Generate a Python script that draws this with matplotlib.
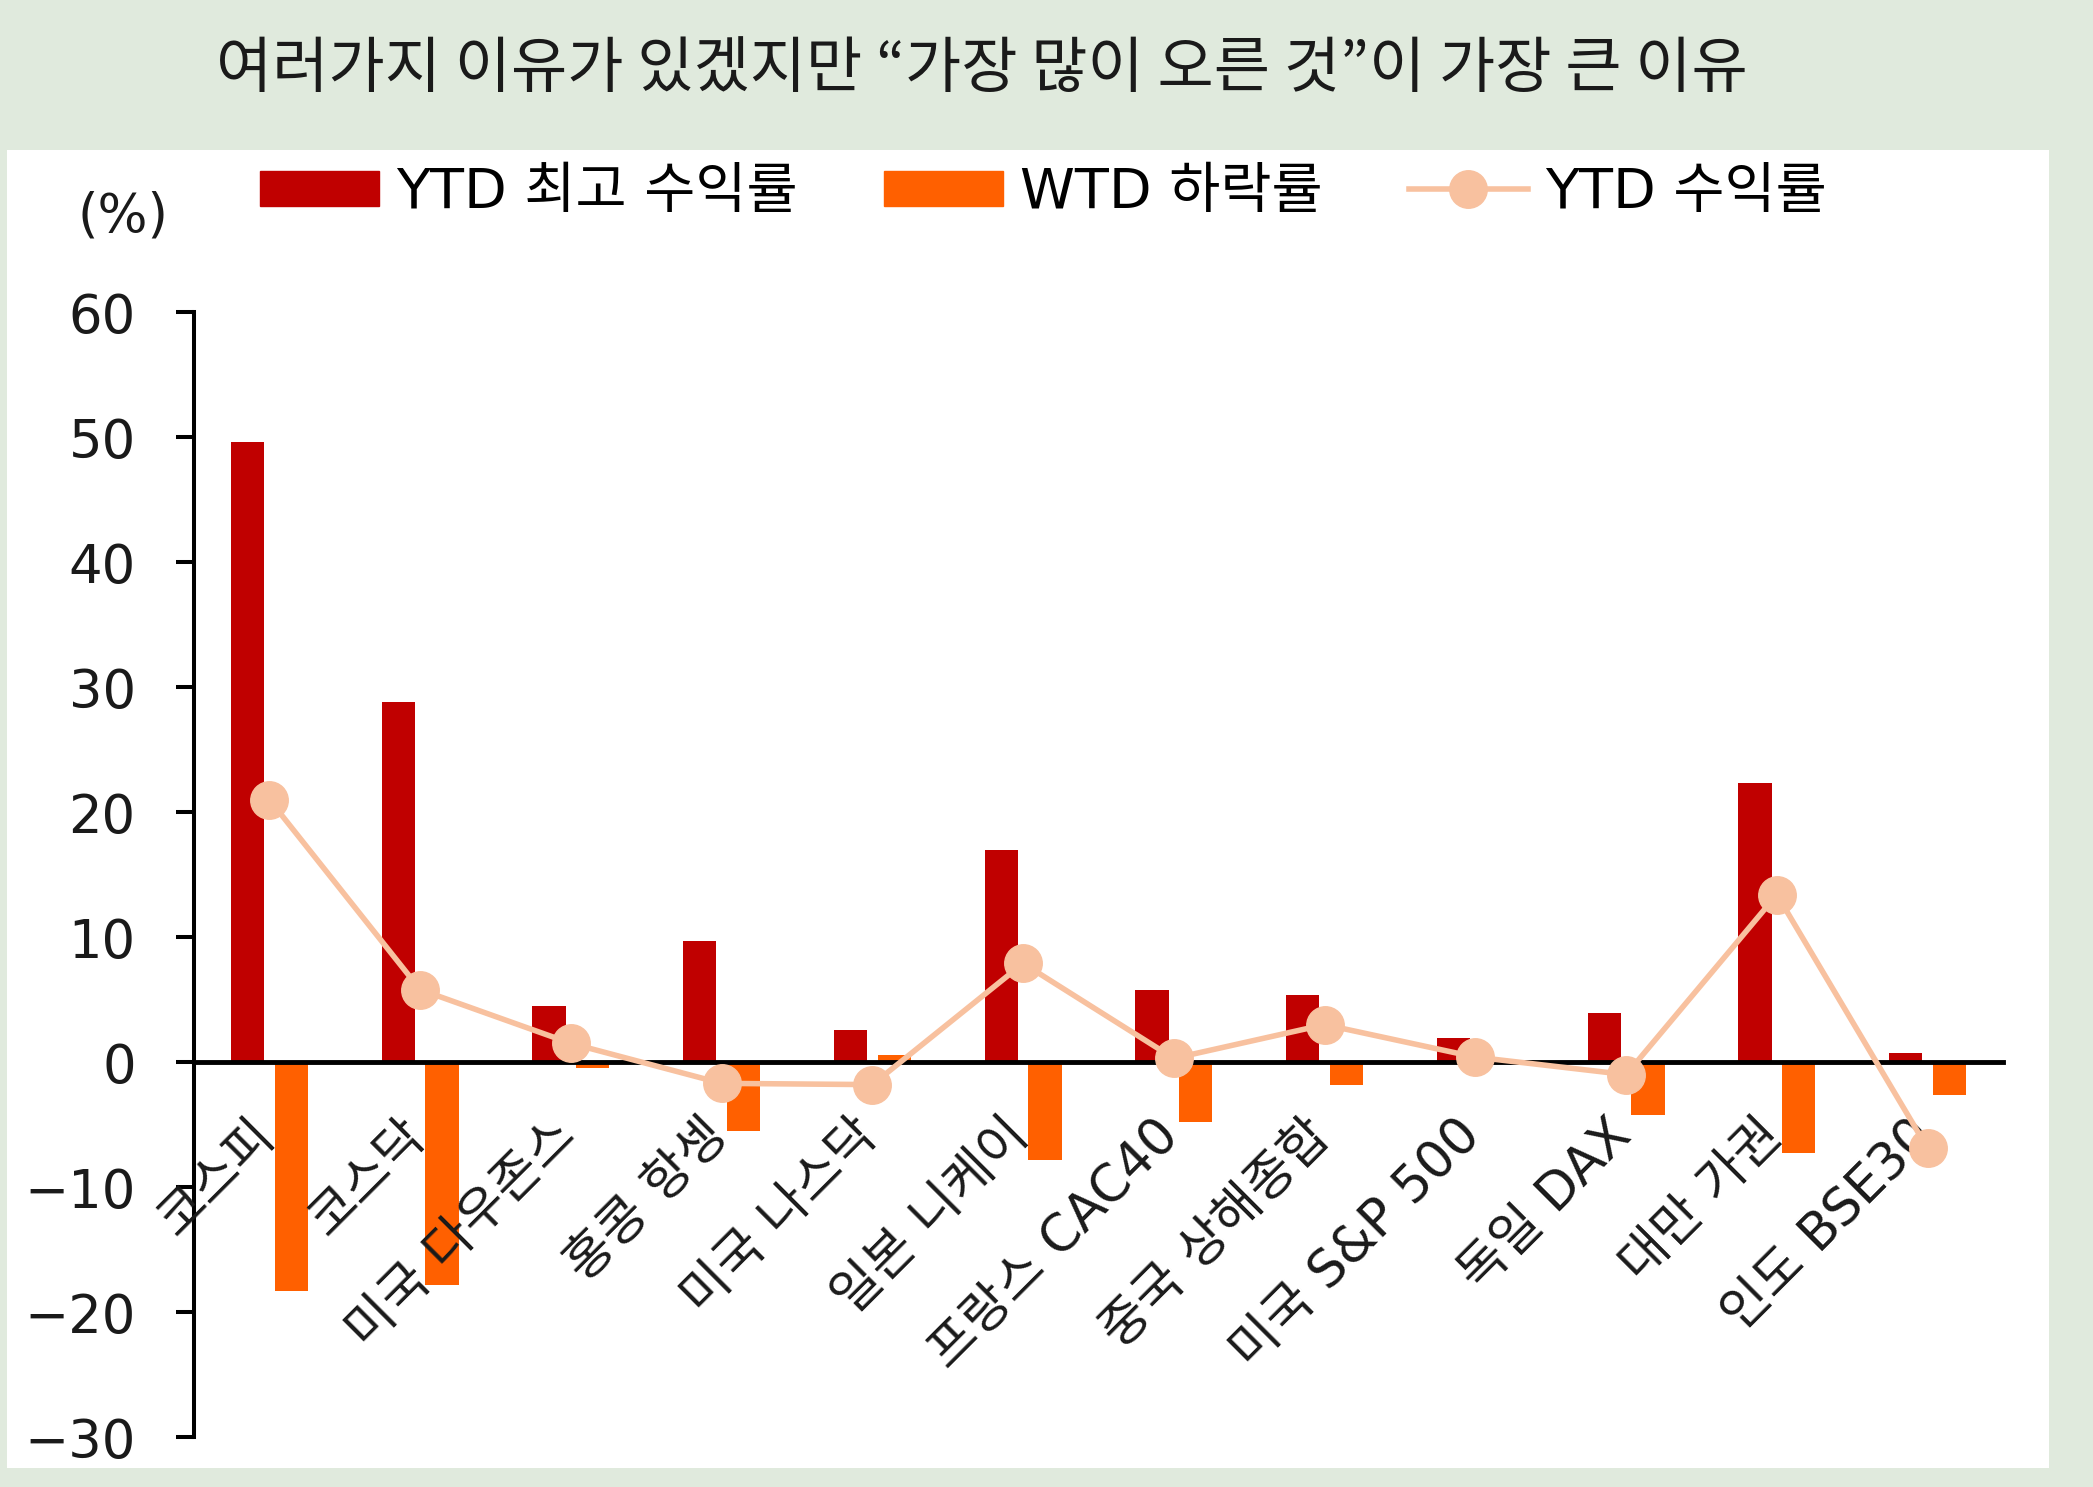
import matplotlib.pyplot as plt
import matplotlib.transforms as mtransforms
import numpy as np
from matplotlib.patches import Rectangle
from matplotlib.lines import Line2D

# latin glyphs from DejaVu (wide, round digits), hangul falls through to Noto CJK
plt.rcParams['font.family'] = ['DejaVu Sans', 'Noto Sans CJK KR']

# data
categories = ['코스피', '코스닥', '미국 다우존스', '홍콩 항셍', '미국 나스닥', '일본 니케이',
              '프랑스 CAC40', '중국 상해종합', '미국 S&P 500', '독일 DAX', '대만 가권', '인도 BSE30']
ytd_max = [49.6, 28.8, 4.5, 9.7, 2.6, 17.0, 5.8, 5.4, 1.9, 3.9, 22.3, 0.7]
wtd_drop = [-18.3, -17.8, -0.5, -5.5, 0.6, -7.8, -4.8, -1.8, 0.0, -4.2, -7.3, -2.6]
ytd_ret = [21.0, 5.8, 1.5, -1.7, -1.8, 7.9, 0.3, 3.0, 0.4, -1.0, 13.4, -6.9]
yticks = [60, 50, 40, 30, 20, 10, 0, -10, -20, -30]

RED = '#c00000'
ORANGE = '#ff6000'
PEACH = '#f8c19f'
BG = '#e0eadd'
TXT = '#1a1a1a'

fig = plt.figure(figsize=(20.93, 14.87), dpi=100)
fig.patch.set_facecolor(BG)
# white panel behind the chart
fig.patches.append(Rectangle((7 / 2093, 1 - 1468 / 1487), (2049 - 7) / 2093, (1468 - 150) / 1487,
                             transform=fig.transFigure, facecolor='white', edgecolor='none', zorder=-1))

fig.text(0.469, 0.953, '여러가지 이유가 있겠지만 “가장 많이 오른 것”이 가장 큰 이유',
         ha='center', va='center', fontsize=44, color=TXT,
         family=['Noto Sans CJK KR', 'DejaVu Sans'])

ax = fig.add_axes([0.0927, 0.0336, 0.957 - 0.0927, 0.790 - 0.0336])
ax.set_facecolor('none')

x = np.arange(len(categories))
w = 0.22
ax.bar(x - 0.145, ytd_max, width=w, color=RED, zorder=2)
ax.bar(x + 0.145, wtd_drop, width=w, color=ORANGE, zorder=2)
ax.plot(x, ytd_ret, color=PEACH, lw=4, marker='o', ms=27, zorder=4)

ax.set_xlim(-0.5, len(categories) - 0.5)
ax.set_ylim(-30, 60)
ax.set_yticks(yticks)
ax.set_yticklabels([str(v).replace('-', '−') for v in yticks])
ax.tick_params(axis='y', length=13, width=2.9, pad=29, labelsize=38, direction='out',
               labelcolor=TXT)
ax.tick_params(axis='x', length=0, labelbottom=False)

for s in ['top', 'right']:
    ax.spines[s].set_visible(False)
ax.spines['left'].set_linewidth(2.9)
ax.spines['bottom'].set_position(('data', 0))
ax.spines['bottom'].set_linewidth(3.5)
ax.spines['bottom'].set_zorder(3)

# category labels hanging under the zero line
trans = mtransforms.offset_copy(ax.transData, fig=fig, x=-20, y=-48, units='dots')
for xi, name in zip(x, categories):
    ax.text(xi, 0, name, transform=trans, rotation=45, rotation_mode='anchor',
            ha='right', va='top', fontsize=37, color=TXT)

fig.text(123 / 2093, 1 - 216 / 1487, '(%)', ha='center', va='center', fontsize=38, color=TXT)

handles = [Rectangle((0, 0), 1, 1, color=RED),
           Rectangle((0, 0), 1, 1, color=ORANGE),
           Line2D([], [], color=PEACH, lw=4, marker='o', ms=27)]
labels = ['YTD 최고 수익률', 'WTD 하락률', 'YTD 수익률']
fig.legend(handles, labels, loc='center left', bbox_to_anchor=(260 / 2093, 1 - 193 / 1487),
           ncol=3, frameon=False, fontsize=40, handlelength=2.15, handleheight=0.6,
           handletextpad=0.3, columnspacing=1.55, borderpad=0, borderaxespad=0)

fig.savefig('out.png', dpi=100, facecolor=fig.get_facecolor())
